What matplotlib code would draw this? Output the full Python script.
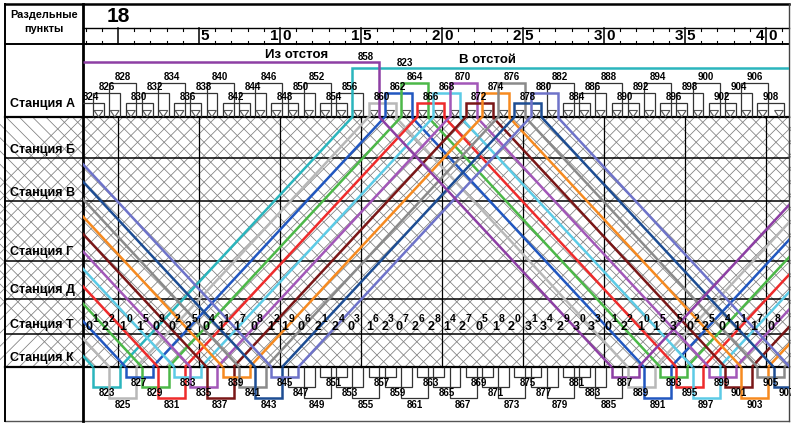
import numpy as np
import matplotlib
matplotlib.use("Agg")
import matplotlib.pyplot as plt
from matplotlib.collections import LineCollection
from matplotlib.patches import Rectangle, Polygon

plt.rcParams['font.family'] = ['Liberation Sans', 'DejaVu Sans']

# ---------------- data (minutes after 18:00) ----------------
hour_label = "18"
major_minutes = [0, 5, 10, 15, 20, 25, 30, 35, 40]
station_names = ["Станция А", "Станция Б", "Станция В", "Станция Г",
                 "Станция Д", "Станция Т", "Станция К"]

# even trains turning at station A: middle time of the turnaround
even_trains = [824, 826, 828, 830, 832, 834, 836, 838, 840, 842, 844, 846, 848,
               850, 852, 854, 856, 858, 860, 862, 864, 866, 868, 870, 872, 874,
               876, 878, 880, 882, 884, 886, 888, 890, 892, 894, 896, 898, 900,
               902, 904, 906, 908]
even_mid = [-1.7, -0.7, 0.3, 1.3, 2.3, 3.3, 4.3, 5.3, 6.3, 7.3, 8.3, 9.3, 10.3,
            11.3, 12.3, 13.3, 14.3, 15.3, 16.3, 17.3, 18.3, 19.3, 20.3, 21.3,
            22.3, 23.3, 24.3, 25.3, 26.3, 27.3, 28.3, 29.3, 30.3, 31.3, 32.3,
            33.3, 34.3, 35.3, 36.3, 37.3, 38.3, 39.3, 40.3]

# odd trains turning at station K
odd_trains = [823, 825, 827, 829, 831, 833, 835, 837, 839, 841, 843, 845, 847,
              849, 851, 853, 855, 857, 859, 861, 863, 865, 867, 869, 871, 873,
              875, 877, 879, 881, 883, 885, 887, 889, 891, 893, 895, 897, 899,
              901, 903, 905, 907]
odd_mid = [-0.7, 0.3, 1.3, 2.3, 3.3, 4.3, 5.3, 6.3, 7.3, 8.3, 9.3, 10.3, 11.3,
           12.3, 13.3, 14.3, 15.3, 16.3, 17.3, 18.3, 19.3, 20.3, 21.3, 22.3,
           23.3, 24.3, 25.3, 26.3, 27.3, 28.3, 29.3, 30.3, 31.3, 32.3, 33.3,
           34.3, 35.3, 36.3, 37.3, 38.3, 39.3, 40.3, 41.3]

turn_time = 1.66     # turnaround duration, min
run_time = 14.34     # running time A <-> K, min

# highlighted train circulations (colour, sequence of train numbers)
chain_colors = ["#2bb5bd", "#b8b8b8", "#2157c0", "#4cb848", "#ee2b2b",
                "#5ccbe6", "#a257b8", "#7a1717", "#f68a20", "#8a8a8a",
                "#1d4d93", "#6e73c9", "#8d3fa4"]
chain_trains = [[823], [825, 860, 889], [827, 862, 891], [829, 864, 893],
                [831, 866, 895], [833, 868, 897], [835, 870, 899],
                [837, 872, 901], [839, 874, 903], [841, 876, 905],
                [843, 878, 907], [845, 880], [858, 887]]
depot_in_train = 858    # "Из отстоя"
depot_out_train = 823   # "В отстой"

# route numbers written along station T (main digit, superscript digit)
route_numbers = ["01", "22", "10", "15", "09", "02", "25", "04", "11", "17",
                 "08", "12", "19", "06", "21", "24", "03", "16", "23", "07",
                 "26", "28", "14", "27", "05", "18", "20", "31", "34", "29",
                 "30", "33", "01", "22", "10", "15", "35", "02", "25", "04",
                 "11", "17", "08", "12"]
route_times = [-2.0, -1.0, 0.1, 1.1, 2.1, 3.1, 4.1, 5.2, 6.1, 7.1, 8.15, 9.2,
               10.1, 11.1, 12.15, 13.2, 14.15, 15.3, 16.25, 17.15, 18.15, 19.1,
               20.05, 21.0, 22.05, 23.1, 24.05, 25.1, 26.05, 27.1, 28.1, 29.0,
               30.05, 31.0, 32.05, 33.0, 34.05, 35.1, 36.05, 37.05, 38.0, 39.0,
               40.1, 41.15]

# ---------------- layout ----------------
W, H = 791, 423
X0, PPM = 118.0, 16.2          # pixel of minute 0, pixels per minute


def tx(px):
    return (px - X0) / PPM


fig = plt.figure(figsize=(W / 100, H / 100), dpi=100)
ax = fig.add_axes([0, 0, 1, 1])
ax.set_xlim(tx(0), tx(W))
ax.set_ylim(H, 0)
ax.axis('off')

Y_TOP, Y_TICK, Y_HEAD = 4, 28, 44
row_bottoms = [117, 158, 201, 261, 299, 334, 367]
Y_BOT = 421
XL, XS, XR = 5, 83, 789
Y_A, Y_K = row_bottoms[0], row_bottoms[-1]
T_LEFT, T_RIGHT = tx(XS), tx(XR)

clip_rect = Rectangle((T_LEFT, Y_TOP), T_RIGHT - T_LEFT, Y_BOT - Y_TOP,
                      transform=ax.transData, fill=False, visible=False)
ax.add_patch(clip_rect)
hatch_rect = Rectangle((T_LEFT, Y_A), T_RIGHT - T_LEFT, Y_K - Y_A,
                       transform=ax.transData, fill=False, visible=False)
ax.add_patch(hatch_rect)

# ---- hatch ----
sp = 13.3
hh = Y_K - Y_A
segs = []
for xp in np.arange(XS - hh - sp, XR + sp, sp):
    segs.append([(tx(xp), Y_A), (tx(xp + hh), Y_K)])
    segs.append([(tx(xp + hh), Y_A), (tx(xp), Y_K)])
lc = LineCollection(segs, colors="#7d7d7d", linewidths=0.55, zorder=1)
lc.set_clip_path(hatch_rect)
ax.add_collection(lc)

# ---- grid / frame ----
for m in major_minutes:
    ax.plot([m, m], [Y_A, Y_K], color="black", lw=0.9, zorder=2)
    ax.plot([m, m], [Y_TICK, Y_HEAD], color="black", lw=1.1, zorder=2)
for m in range(-2, 42):
    if m % 5 != 0:
        ax.plot([m, m], [Y_TICK, Y_TICK + 3], color="black", lw=0.8, zorder=2)
        ax.plot([m, m], [Y_HEAD - 3, Y_HEAD], color="black", lw=0.8, zorder=2)

ax.plot([tx(XL), tx(XR)], [Y_TOP, Y_TOP], color="black", lw=1.8, zorder=3)
ax.plot([tx(XS), tx(XR)], [Y_TICK, Y_TICK], color="black", lw=1.0, zorder=3)
ax.plot([tx(XL), tx(XR)], [Y_HEAD, Y_HEAD], color="black", lw=1.4, zorder=3)
for yb in row_bottoms:
    ax.plot([tx(XL), tx(XR)], [yb, yb], color="black",
            lw=1.6 if yb in (Y_A, Y_K) else 1.1, zorder=3)
ax.plot([tx(XL), tx(XR)], [Y_BOT, Y_BOT], color="#555555", lw=1.0, zorder=3)
ax.plot([tx(XL), tx(XL)], [Y_TOP, Y_BOT], color="black", lw=1.4, zorder=3)
ax.plot([tx(XS), tx(XS)], [Y_TOP, Y_BOT], color="black", lw=2.0, zorder=3)
ax.plot([tx(XR), tx(XR)], [Y_TOP, Y_BOT], color="#444444", lw=1.0, zorder=3)

# ---- header texts ----
ax.text(tx(44), 15, "Раздельные", ha="center", va="center",
        fontsize=7.8, fontweight="bold")
ax.text(tx(44), 29, "пункты", ha="center", va="center",
        fontsize=7.8, fontweight="bold")
ax.text(0.0, 17, hour_label, ha="center", va="center",
        fontsize=15, fontweight="bold")
for m in major_minutes[1:]:
    s = str(m)
    if len(s) == 1:
        ax.text(m + 0.12, 36.5, s, ha="left", va="center",
                fontsize=11, fontweight="bold")
    else:
        ax.text(m - 0.1, 36.5, s[0], ha="right", va="center",
                fontsize=11, fontweight="bold")
        ax.text(m + 0.12, 36.5, s[1], ha="left", va="center",
                fontsize=11, fontweight="bold")

label_y = [104, 150, 193, 252, 290, 325, 358]
for name, yl in zip(station_names, label_y):
    ax.text(tx(10), yl, name, ha="left", va="center",
            fontsize=9, fontweight="bold")

# ---- train colour lookup ----
color_of = {}
for c, ch in zip(chain_colors, chain_trains):
    for n in ch:
        color_of[n] = c

even_idx = {n: i for i, n in enumerate(even_trains)}
odd_idx = {n: j for j, n in enumerate(odd_trains)}
top_levels = [103, 93, 83]
bot_levels = [387, 398, 377]


def times(n):
    if n in even_idx:
        mid = even_mid[even_idx[n]]
    else:
        mid = odd_mid[odd_idx[n]]
    return mid - turn_time / 2, mid + turn_time / 2


def station_y(n):
    return Y_A if n in even_idx else Y_K


def line(xs, ys, color, lw, z):
    ln, = ax.plot(xs, ys, color=color, lw=lw, zorder=z,
                  solid_capstyle="butt", solid_joinstyle="miter")
    ln.set_clip_path(clip_rect)


# ---- small triangles at station A ----
for mid in even_mid:
    t = mid + 0.5
    tri = Polygon([(t - 0.27, 110.5), (t + 0.27, 110.5), (t, Y_A)],
                  closed=True, fill=False, edgecolor="#555555", lw=0.8, zorder=3)
    tri.set_clip_path(clip_rect)
    ax.add_patch(tri)

# ---- brackets at station A ----
for i, n in enumerate(even_trains):
    mid = even_mid[i]
    if n == depot_in_train:
        ax.text(mid, 57.5, str(n), ha="center", va="center",
                fontsize=7, fontweight="bold", clip_on=True)
        continue
    a, d = times(n)
    lev = top_levels[i % 3]
    col = color_of.get(n, "#333333")
    lw = 1.8 if n in color_of else 0.9
    line([a, a, d, d], [Y_A, lev, lev, Y_A], col, lw, 5 if n in color_of else 4)
    t = ax.text(mid, lev - 5.5, str(n), ha="center", va="center",
                fontsize=7, fontweight="bold", zorder=6)
    t.set_clip_path(clip_rect)

# ---- brackets at station K ----
for j, n in enumerate(odd_trains):
    mid = odd_mid[j]
    a, d = times(n)
    lev = bot_levels[j % 3]
    col = color_of.get(n, "#333333")
    lw = 1.8 if n in color_of else 0.9
    line([a, a, d, d], [Y_K, lev, lev, Y_K], col, lw, 5 if n in color_of else 4)
    t = ax.text(mid, lev + 6.5, str(n), ha="center", va="center",
                fontsize=7, fontweight="bold", zorder=6)
    t.set_clip_path(clip_rect)

# ---- highlighted train paths ----
for col, ch in zip(chain_colors, chain_trains):
    first = ch[0]
    a0, d0 = times(first)
    y0 = station_y(first)
    if first == depot_in_train:
        line([T_LEFT, d0, d0], [62, 62, Y_A], col, 1.8, 5)
    else:
        yo = Y_A if y0 == Y_K else Y_K
        line([a0 - run_time, a0], [yo, y0], col, 1.8, 5)
    for n1, n2 in zip(ch[:-1], ch[1:]):
        line([times(n1)[1], times(n2)[0]], [station_y(n1), station_y(n2)],
             col, 1.8, 5)
    last = ch[-1]
    dl = times(last)[1]
    yl = station_y(last)
    yo = Y_A if yl == Y_K else Y_K
    if last == depot_out_train:
        ta = dl + run_time
        line([dl, ta], [yl, yo], col, 1.8, 5)
        line([ta, ta, T_RIGHT], [yo, 68, 68], col, 1.8, 5)
    else:
        line([dl, dl + run_time], [yl, yo], col, 1.8, 5)

ax.text(tx(405), 62.5, str(depot_out_train), ha="center", va="center",
        fontsize=7, fontweight="bold")
ax.text(tx(297), 55, "Из отстоя", ha="center", va="center",
        fontsize=9.5, fontweight="bold")
ax.text(tx(487), 60, "В отстой", ha="center", va="center",
        fontsize=9.5, fontweight="bold")

# ---- route numbers at station T ----
for rn, rt in zip(route_numbers, route_times):
    if rt > T_RIGHT - 0.3:
        continue
    ax.text(rt, 326.5, rn[0], ha="left", va="center", fontsize=9,
            fontweight="bold", zorder=6)
    ax.text(rt + 0.42, 319, rn[1], ha="left", va="center", fontsize=7.5,
            fontweight="bold", zorder=6)

fig.savefig("out.png", dpi=100)
